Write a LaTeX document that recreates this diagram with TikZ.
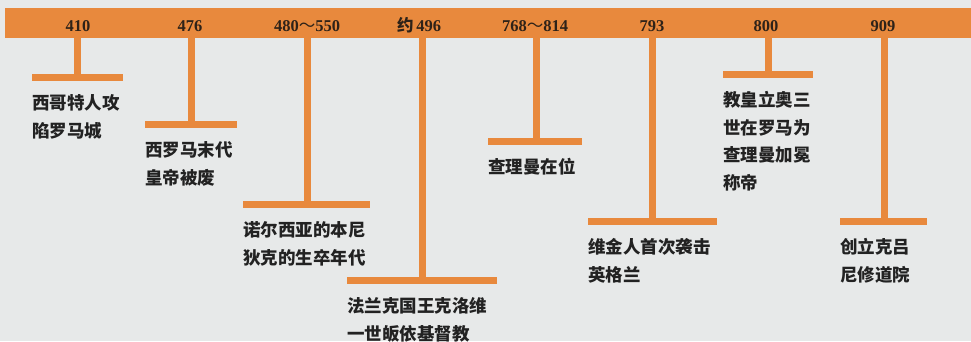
\documentclass[tikz,border=0pt]{standalone}
\usepackage{fontspec}
\newfontfamily\cjk{Noto Sans CJK SC}
\newfontfamily\yearfont{Liberation Serif}
\definecolor{paper}{HTML}{E7E9E9}
\definecolor{barorange}{HTML}{E8893D}
\definecolor{ink}{HTML}{222222}
\definecolor{yearink}{HTML}{2E2218}
\begin{document}
\begin{tikzpicture}[x=1pt,y=-1pt,
  bandline/.style={barorange,line width=7pt},
  yearlabel/.style={inner sep=0pt,anchor=base,text=yearink,font=\yearfont\bfseries\fontsize{16.5}{18}\selectfont},
  eventtext/.style={inner sep=0pt,anchor=base west,text=ink,font=\cjk\bfseries\fontsize{17.5}{27.5}\selectfont}]
\fill[paper] (0,0) rectangle (971,341);
\useasboundingbox (0,0) rectangle (971,341);
\fill[barorange] (5,8) rectangle (971,38);
\newcommand{\wave}{{\cjk\mdseries ～}}
\foreach \i/\yr/\lx/\sx/\by/\xl/\xr/\txt in {
  1/410/78/77/77/32/123/{西哥特人攻\\陷罗马城},
  2/476/190/191/124/145/237/{西罗马末代\\皇帝被废},
  3/{480\wave550}/307/307/204/243/370/{诺尔西亚的本尼\\狄克的生卒年代},
  4/{{\cjk\bfseries 约}\,496}/419/422/280/347/497/{法兰克国王克洛维\\一世皈依基督教},
  5/{768\wave814}/535/536/141/488/582/{查理曼在位},
  6/793/652/652/221/588/717/{维金人首次袭击\\英格兰},
  7/800/766/768/74/723/813/{教皇立奥三\\世在罗马为\\查理曼加冕\\称帝},
  8/909/883/884/221/840/927/{创立克吕\\尼修道院}}{
  \node[yearlabel] (y\i) at (\lx,31.5) {\yr};
  \coordinate (s\i) at (\sx,36);
  \coordinate (l\i) at (\xl,\by);
  \coordinate (r\i) at (\xr,\by);
  \draw[bandline] (s\i) -- (s\i |- l\i);
  \draw[bandline] (l\i) -- (r\i);
  \node[eventtext] (e\i) at ([yshift=-32.5pt]l\i) {\begin{tabular}[t]{@{}l@{}}\txt\end{tabular}};
}
\end{tikzpicture}
\end{document}
